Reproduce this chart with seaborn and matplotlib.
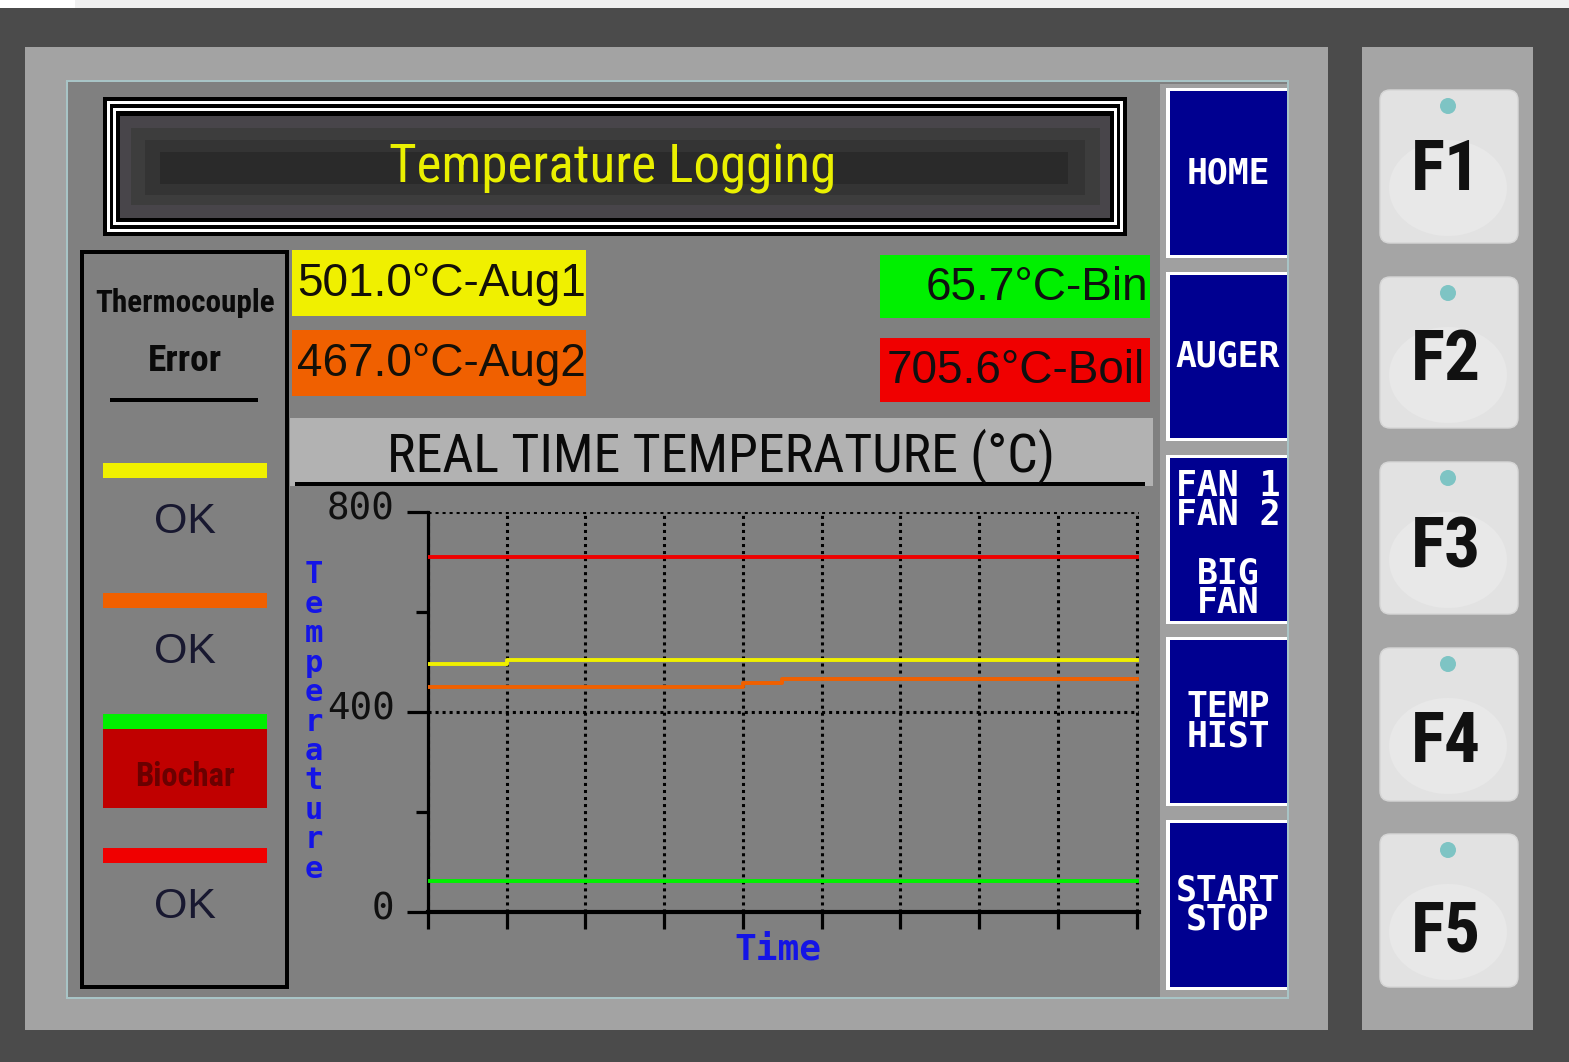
import numpy as np
import pandas as pd
import matplotlib
matplotlib.use('Agg')
import matplotlib.pyplot as plt
import matplotlib.transforms as mtransforms
from matplotlib.patches import Rectangle, FancyBboxPatch, Circle, Ellipse
from matplotlib.font_manager import FontProperties, fontManager
import seaborn as sns

# --- data ---
time = [0, 1, 2, 3, 4, 4.5, 5, 6, 7, 8, 9]
aug1 = [496, 504, 504, 504, 504, 504, 504, 504, 504, 504, 504]
aug2 = [450, 450, 450, 450, 457, 465, 465, 465, 465, 465, 465]
bin_temp = [62, 62, 62, 62, 62, 62, 62, 62, 62, 62, 62]
boil = [709, 709, 709, 709, 709, 709, 709, 709, 709, 709, 709]

sensor_names = ['Aug1', 'Aug2', 'Bin', 'Boil']
sensor_colors = ['#f0f000', '#f06000', '#00f000', '#f00000']
readouts = ['501.0°C-Aug1', '467.0°C-Aug2', '65.7°C-Bin', '705.6°C-Boil']
status_labels = ['OK', 'OK', 'Biochar', 'OK']
menu_buttons = ['HOME', 'AUGER', 'FAN 1\nFAN 2\n\nBIG\nFAN', 'TEMP\nHIST', 'START\nSTOP']
f_keys = ['F1', 'F2', 'F3', 'F4', 'F5']
y_ticks = [0, 400, 800]

SANS = 'Liberation Sans'
MONO = 'DejaVu Sans Mono'


def find_condensed(bold):
    # look for any narrow / condensed face, else plain Liberation Sans
    best = None
    for f in fontManager.ttflist:
        narrow = ('Narrow' in f.name or 'Condensed' in f.name
                  or str(f.stretch) in ('condensed', 'semi-condensed'))
        if not narrow or 'Italic' in f.fname or str(f.style) != 'normal':
            continue
        is_bold = str(f.weight) in ('bold', '700') or 'Bold' in f.fname
        if is_bold != bold:
            continue
        if 'ExtraBold' in f.fname or 'SemiBold' in f.fname or 'Light' in f.fname \
                or 'Thin' in f.fname or 'Medium' in f.fname or 'Black' in f.fname:
            continue
        score = 0 if 'Liberation' in f.name else 1 if 'Roboto' in f.name else 2
        if best is None or score < best[0]:
            best = (score, f.fname)
    if best:
        return FontProperties(fname=best[1])
    return FontProperties(family=SANS, weight='bold' if bold else 'normal')


COND = find_condensed(False)
COND_B = find_condensed(True)

W, H = 1569, 1062
fig = plt.figure(figsize=(W / 100, H / 100), dpi=100)
renderer = fig.canvas.get_renderer()
bg = fig.add_axes([0, 0, 1, 1])
bg.set_xlim(0, W)
bg.set_ylim(H, 0)
bg.axis('off')


def box(x0, y0, x1, y1, color, z=1, **kw):
    bg.add_patch(Rectangle((x0, y0), x1 - x0, y1 - y0, facecolor=color,
                           edgecolor='none', zorder=z, **kw))


def txt(x, y, s, size, color='black', fp=None, width=None, **kw):
    kw.setdefault('ha', 'center')
    kw.setdefault('va', 'center')
    if fp is None:
        fp = FontProperties(family=SANS)
    t = bg.text(x, y, s, color=color, fontproperties=fp.copy(), zorder=10, **kw)
    t.set_fontsize(size)
    if width:
        w = t.get_window_extent(renderer).width
        t.set_fontsize(size * width / w)
    return t


# frame / bezels
box(0, 0, W, H, '#4b4b4b', 0)
box(0, 0, W, 8, '#f0f0f0', 1)
box(0, 0, 75, 8, '#ffffff', 1)
box(25, 47, 1328, 1030, '#a3a3a3', 1)
box(1362, 47, 1533, 1030, '#a5a5a5', 1)
box(66, 80, 1289, 999, '#a8c4c6', 2)
box(68, 82, 1287, 997, '#808080', 2)

# title box
box(103, 97, 1127, 236, '#000000', 3)
box(107, 101, 1123, 232, '#ffffff', 3)
box(110, 104, 1120, 229, '#000000', 3)
box(113, 108, 1117, 225, '#ffffff', 3)
box(116, 111, 1114, 222, '#000000', 3)
box(120, 116, 1110, 218, '#48454a', 3)
box(131, 128, 1100, 205, '#3d3d3d', 3)
box(145, 140, 1085, 195, '#343434', 3)
box(160, 152, 1068, 184, '#2a2a2a', 3)
txt(613, 169, 'Temperature Logging', 33, '#eaf000', COND, width=448)

# thermocouple status panel
box(80, 250, 289, 989, '#000000', 3)
box(84, 254, 285, 985, '#808080', 3)
txt(185, 303, 'Thermocouple', 24, '#0a0a0a', COND_B, width=180)
txt(185, 361, 'Error', 24, '#0a0a0a', COND_B, width=74)
box(110, 398, 258, 402, '#000000', 4)
bar_tops = [463, 593, 714, 848]
label_y = [522, 652, 768, 907]
for i, (c, lab) in enumerate(zip(sensor_colors, status_labels)):
    box(103, bar_tops[i], 267, bar_tops[i] + 15, c, 4)
    if lab == 'Biochar':
        box(103, bar_tops[i] + 15, 267, 808, '#c00000', 4)
        txt(185, label_y[i] + 9, lab, 22, '#6a0000', COND_B, width=100)
    else:
        txt(185, label_y[i], lab, 31, '#181830')

# readout boxes
box(292, 250, 586, 316, sensor_colors[0], 3)
box(292, 330, 586, 396, sensor_colors[1], 3)
box(880, 255, 1150, 318, sensor_colors[2], 3)
box(880, 338, 1150, 402, sensor_colors[3], 3)
txt(297, 284, readouts[0], 33, '#141008', ha='left')
txt(297, 364, readouts[1], 33, '#141008', ha='left')
txt(1148, 288, readouts[2], 33, '#101010', ha='right')
txt(887, 371, readouts[3], 33, '#101010', ha='left')

# chart header
box(290, 418, 1153, 486, '#b2b2b2', 3)
box(295, 482, 1145, 486, '#000000', 4)
txt(721, 456, 'REAL TIME TEMPERATURE (°C)', 38, '#0a0a0a', COND, width=668)

# navigation buttons
box(1160, 84, 1287, 997, '#a0a0a0', 3)
btn_spans = [(88, 258), (272, 441), (455, 624), (637, 806), (820, 990)]
for (y0, y1), lab in zip(btn_spans, menu_buttons):
    box(1166, y0, 1287, y1, '#ffffff', 4)
    box(1170, y0 + 3, 1287, y1 - 3, '#000090', 4)
    txt(1228, (y0 + y1) / 2 + (5 if '\n\n' in lab else 0), lab, 25, 'white',
        FontProperties(family=MONO, weight='bold'), linespacing=0.82)

# F keys
f_spans = [(90, 243), (277, 428), (462, 614), (648, 801), (834, 987)]
f_text_y = [170, 360, 548, 742, 932]
for (y0, y1), ty, lab in zip(f_spans, f_text_y, f_keys):
    bg.add_patch(FancyBboxPatch((1380, y0), 138, y1 - y0,
                                boxstyle='round,pad=0,rounding_size=10',
                                facecolor='#e2e2e2', edgecolor='#d6d6d6',
                                linewidth=1, zorder=4))
    bg.add_patch(Ellipse((1448, y0 + 98), 118, 96, facecolor='#e8e8e8',
                         edgecolor='none', zorder=4))
    bg.add_patch(Circle((1448, y0 + 16), 8, facecolor='#7ec4c4',
                        edgecolor='none', zorder=5))
    txt(1446, ty, lab, 48, '#111111', COND_B, width=70)

# --- trend chart ---
rows = []
for name, vals in zip(sensor_names, [aug1, aug2, bin_temp, boil]):
    for t, v in zip(time, vals):
        rows.append({'time': t, 'temp': v, 'sensor': name})
df = pd.DataFrame(rows)

left, right = 428, 1139
top, bottom = 511.7, 911.7
ax = fig.add_axes([left / W, 1 - bottom / H, (right - left) / W, (bottom - top) / H])
ax.set_facecolor('none')
ax.set_zorder(6)

sns.lineplot(data=df, x='time', y='temp', hue='sensor',
             palette=dict(zip(sensor_names, sensor_colors)),
             drawstyle='steps-post', linewidth=2.8, legend=False, ax=ax,
             estimator=None, zorder=3)

ax.set_xlim(0, 9.03)
ax.set_ylim(0, 800)
ax.set_xticks(range(10))
ax.set_xticklabels([])
ax.set_yticks(y_ticks)
ax.set_yticks([200, 600], minor=True)
ax.set_yticklabels([str(v) for v in y_ticks], family=MONO, fontsize=27, color='#101010')
ax.grid(True, which='major', color='black', linestyle=(0, (1, 1.3)),
        linewidth=2.2, zorder=1)
ax.set_axisbelow(True)
for s in ['top', 'right']:
    ax.spines[s].set_visible(False)
ax.spines['left'].set_linewidth(2.3)
ax.spines['bottom'].set_linewidth(3)
ax.tick_params(axis='y', which='major', length=15, width=2.3, pad=9, color='black')
ax.tick_params(axis='y', which='minor', length=9, width=2.3, color='black')
ax.tick_params(axis='x', which='major', length=12, width=2.3, direction='out')

offset = mtransforms.ScaledTranslation(0, 6 / 100, fig.dpi_scale_trans)
for lab in ax.yaxis.get_majorticklabels():
    lab.set_transform(lab.get_transform() + offset)

ax.set_ylabel('\n'.join('Temperature'), rotation=0, family=MONO, fontweight='bold',
              fontsize=22, color='#1414e6', linespacing=1.02, ha='center', va='center')
ax.yaxis.set_label_coords((314 - left) / (right - left), (bottom - 722) / (bottom - top))
ax.set_xlabel('Time', family=MONO, fontweight='bold', fontsize=26, color='#1414e6',
              va='center')
ax.xaxis.set_label_coords((778 - left) / (right - left), -(950 - bottom) / (bottom - top))

fig.savefig('out.png', dpi=100)
